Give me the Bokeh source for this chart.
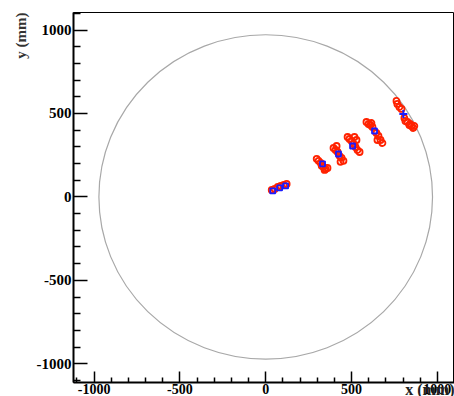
from bokeh.plotting import figure
from bokeh.models import Range1d, Title, FixedTicker
from bokeh.embed import file_html
from bokeh.resources import INLINE

# hit positions (mm)
red_x = [35, 52, 70, 87, 105, 122,
         297, 308, 320, 326, 337, 349, 360, 343,
         395, 407, 419, 430, 442, 453, 436, 413,
         477, 488, 500, 512, 523, 535, 547, 529, 517,
         587, 599, 610, 622, 645, 657, 669, 680, 651, 616,
         762, 767, 779, 791, 808, 814, 826, 837, 849, 860, 866, 843]
red_y = [42, 48, 60, 66, 72, 78,
         228, 216, 204, 186, 180, 168, 174, 162,
         293, 281, 269, 246, 234, 216, 210, 305,
         359, 347, 335, 317, 299, 281, 269, 341, 359,
         449, 437, 431, 419, 383, 365, 341, 323, 341, 443,
         575, 557, 539, 527, 473, 455, 449, 431, 425, 413, 425, 437]
blue_x = [41, 81, 116, 331, 424, 506, 634]
blue_y = [36, 54, 66, 198, 257, 305, 395]
cross_x = [802]
cross_y = [497]
circle_r = 972

x_ticks = [-1000, -500, 0, 500, 1000]
y_ticks = [-1000, -500, 0, 500, 1000]
minor_ticks = [-1100, -900, -800, -700, -600, -400, -300, -200, -100,
               100, 200, 300, 400, 600, 700, 800, 900, 1100]
x_title = "x (mm)"
y_title = "y (mm)"

FONT = "Liberation Serif"

p = figure(width=454, height=396, output_backend="svg", toolbar_location=None,
           x_range=Range1d(-1120, 1100), y_range=Range1d(-1112, 1105),
           min_border_left=73, min_border_right=0, min_border_top=12,
           min_border_bottom=14)
p.grid.visible = False
p.outline_line_color = "black"
p.outline_line_width = 1
p.background_fill_color = "white"
p.border_fill_color = "white"

p.ellipse(x=[0], y=[0], width=[2 * circle_r], height=[2 * circle_r],
          fill_color=None, line_color="#a8a8a8", line_width=1.2)
p.scatter(red_x, red_y, marker="circle", size=6, fill_color=None,
          line_color="#ff2200", line_width=1.8)
p.scatter(blue_x, blue_y, marker="square", size=5, fill_color=None,
          line_color="#1a1aff", line_width=1.8)
p.scatter(cross_x, cross_y, marker="cross", size=8, line_color="#1a1aff",
          line_width=2)

for ax, ticks in ((p.xaxis[0], x_ticks), (p.yaxis[0], y_ticks)):
    ax.ticker = FixedTicker(ticks=ticks, minor_ticks=minor_ticks)
    ax.major_label_overrides = {t: str(t) for t in ticks}
    ax.axis_line_color = "black"
    ax.axis_line_width = 2
    ax.major_tick_line_width = 1.5
    ax.minor_tick_line_width = 1.5
    ax.major_tick_out = 0
    ax.minor_tick_out = 0
    ax.major_label_text_font = FONT
    ax.major_label_text_font_style = "bold"
    ax.major_label_text_color = "black"

p.xaxis.major_tick_in = 11
p.xaxis.minor_tick_in = 5
p.yaxis.major_tick_in = 14
p.yaxis.minor_tick_in = 7
p.xaxis.major_label_text_font_size = "14px"
p.yaxis.major_label_text_font_size = "15px"
p.xaxis.major_label_standoff = 1
p.yaxis.major_label_standoff = 2

p.add_layout(Title(text=y_title, align="right", text_font=FONT,
                   text_font_style="bold", text_font_size="15px",
                   text_color="#333333", standoff=10), "left")
p.add_layout(Title(text=x_title, align="right", vertical_align="top",
                   text_font=FONT, text_font_style="bold",
                   text_font_size="16px", text_color="#222222",
                   standoff=-32), "below")

open("out.html", "w").write(file_html(p, INLINE))
